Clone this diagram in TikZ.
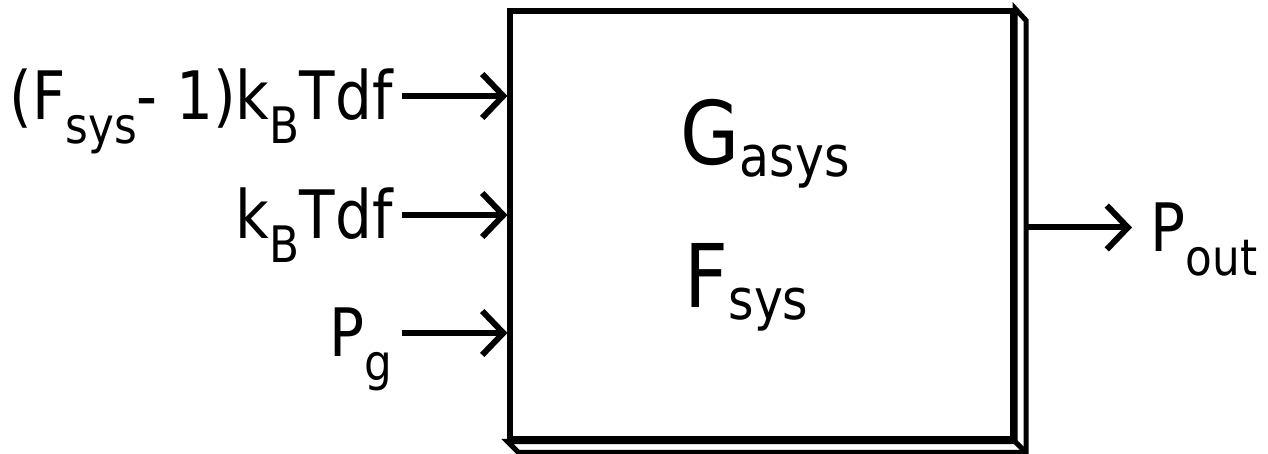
\documentclass[tikz,border=0pt]{standalone}
\usepackage{fontspec}
\setmainfont{DejaVu Sans}[FakeStretch=0.87]
\usetikzlibrary{arrows.meta,calc}

% pedici abbassati (etichette e testo centrale)
\newcommand{\lsub}[1]{\raisebox{-6.8pt}{\fontsize{14.3}{15}\selectfont #1}}
\newcommand{\csub}[1]{\raisebox{-3.2pt}{\fontsize{16}{17}\selectfont #1}}

\begin{document}
\begin{tikzpicture}[x=0.1mm, y=-0.1mm, line width=1.45pt,
    >={Straight Barb[length=6pt,width=12.5pt]},
    arr/.style={->, line width=1.7pt},
    lbl/.style={inner sep=0pt, font=\fontsize{19}{20}\selectfont},
    big/.style={inner sep=0pt, font=\fontsize{25}{26}\selectfont}]

    \useasboundingbox (0,0) rectangle (1268,454);

    % --- Blocco del sistema (faccia frontale) ---
    \node[draw, fill=white, inner sep=0pt, minimum width=50.25mm, minimum height=42.8mm] (sys) at (761.25,225) {};

    % --- Spessore del blocco: faccia laterale e inferiore ---
    \draw[fill=white, line join=miter] (sys.north east) -- ++(11,12)
        -- ($(sys.south east)+(11,11)$) -- ($(sys.south west)+(11,11)$)
        -- (sys.south west) -- (sys.south east) -- cycle;
    \draw (sys.south east) -- ++(11,11);

    % --- Ingressi: etichetta e freccia verso il blocco ---
    \foreach \i/\y/\txt in {
        1/96/{(F\lsub{sys}- 1)k\lsub{B}Tdf},
        2/215/{k\lsub{B}Tdf},
        3/333/{P\lsub{g}}
    } {
        \coordinate (in\i) at (402,\y);
        \node[lbl, anchor=base east] (l\i) at (395,\y+24) {\txt};
        \draw[arr] (in\i) -- (in\i -| sys.west);
    }

    % --- Uscita ---
    \coordinate (o1) at ($(sys.east)+(9,2.5)$);
    \coordinate (o2) at (1132,227.5);
    \draw[arr] (o1) -- (o2);
    \node[lbl, anchor=base west] (lout) at (1148,252) {P\lsub{out}};

    % --- Testo centrale ---
    \node[big, anchor=base west] (gain) at (678,165) {G\csub{asys}};
    \node[big, anchor=base west] (noise) at (682,308) {F\csub{sys}};

\end{tikzpicture}
\end{document}
